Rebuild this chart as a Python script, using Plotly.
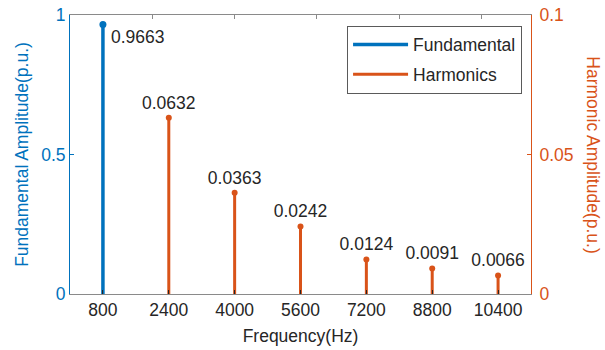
import plotly.graph_objects as go

freq_fund = [800]
amp_fund = [0.9663]
freq_harm = [2400, 4000, 5600, 7200, 8800, 10400]
amp_harm = [0.0632, 0.0363, 0.0242, 0.0124, 0.0091, 0.0066]
x_ticks = [800, 2400, 4000, 5600, 7200, 8800, 10400]
top_ticks = [2000, 4000, 6000, 8000, 10000]
left_ticks = [0, 0.5, 1]
left_labels = ["0", "0.5", "1"]
right_ticks = [0, 0.05, 0.1]
right_labels = ["0", "0.05", "0.1"]

BLUE = "#0072BD"
ORANGE = "#D95319"
DARK = "#262626"
FONT = "Liberation Sans, Arial, sans-serif"
FS = 17.5


def stems(xs, ys):
    sx, sy = [], []
    for x, y in zip(xs, ys):
        sx += [x, x, None]
        sy += [0, y, None]
    return sx, sy


fig = go.Figure()

fx, fy = stems(freq_fund, amp_fund)
fig.add_trace(go.Scatter(x=fx, y=fy, mode="lines", line=dict(color=BLUE, width=3.5),
                         name="Fundamental", legendgroup="f", yaxis="y"))
fig.add_trace(go.Scatter(x=freq_fund, y=amp_fund, mode="markers",
                         marker=dict(color=BLUE, size=7),
                         showlegend=False, yaxis="y", cliponaxis=False))

hx, hy = stems(freq_harm, amp_harm)
fig.add_trace(go.Scatter(x=hx, y=hy, mode="lines", line=dict(color=ORANGE, width=3),
                         name="Harmonics", legendgroup="h", yaxis="y2"))
fig.add_trace(go.Scatter(x=freq_harm, y=amp_harm, mode="markers+text",
                         marker=dict(color=ORANGE, size=6),
                         text=[f"{v:.4f}" for v in amp_harm], textposition="top center",
                         textfont=dict(color=DARK, size=FS, family=FONT),
                         showlegend=False, yaxis="y2", cliponaxis=False))

annotations = [dict(text="Harmonic Amplitude(p.u.)", textangle=90,
                    xref="paper", yref="paper", x=1.135, y=0.5,
                    xanchor="center", yanchor="middle", showarrow=False,
                    font=dict(size=FS, color=ORANGE, family=FONT))]
for x, v in zip(freq_fund, amp_fund):
    annotations.append(dict(text=f"{v:.4f}", x=x, y=v, xref="x", yref="y",
                            xanchor="left", yanchor="middle", xshift=6, yshift=-13,
                            showarrow=False, font=dict(size=FS, color=DARK, family=FONT)))

fig.update_layout(
    width=605, height=350,
    margin=dict(l=70, r=74, t=15, b=56),
    paper_bgcolor="white", plot_bgcolor="white",
    font=dict(family=FONT, size=FS, color=DARK),
    showlegend=True,
    legend=dict(x=0.601, y=0.962, xanchor="left", yanchor="top",
                bgcolor="white", bordercolor="#5a5a5a", borderwidth=1,
                font=dict(size=FS, color=DARK, family=FONT),
                itemwidth=55, tracegroupgap=4),
    xaxis=dict(range=[0, 11200], tickvals=x_ticks, ticktext=[str(v) for v in x_ticks],
               ticks="inside", ticklen=4, tickcolor=DARK, tickwidth=1,
               showline=True, linecolor="#8a8a8a", linewidth=1, mirror=False,
               showgrid=False, zeroline=False, automargin=False,
               title=dict(text="Frequency(Hz)", standoff=10, font=dict(size=FS, color=DARK)),
               tickfont=dict(size=FS, color=DARK)),
    xaxis2=dict(range=[0, 11200], tickvals=top_ticks, showticklabels=False,
                overlaying="x", side="top", anchor="y", automargin=False,
                ticks="inside", ticklen=4, tickcolor="#8a8a8a",
                showline=True, linecolor="#8a8a8a", linewidth=1,
                showgrid=False, zeroline=False),
    yaxis=dict(range=[0, 1], tickvals=left_ticks, ticktext=left_labels,
               ticks="inside", ticklen=4, tickcolor=BLUE,
               showline=True, linecolor=BLUE, linewidth=1,
               showgrid=False, zeroline=False, automargin=False,
               tickfont=dict(size=FS, color=BLUE),
               title=dict(text="Fundamental Amplitude(p.u.)", standoff=8,
                          font=dict(size=FS, color=BLUE))),
    yaxis2=dict(range=[0, 0.1], tickvals=right_ticks, ticktext=right_labels,
                overlaying="y", side="right", anchor="x", automargin=False,
                ticks="inside", ticklen=4, tickcolor=ORANGE,
                showline=True, linecolor=ORANGE, linewidth=1,
                showgrid=False, zeroline=False, ticklabelstandoff=4,
                tickfont=dict(size=FS, color=ORANGE)),
    annotations=annotations,
)

# dummy trace so the top axis is drawn
fig.add_trace(go.Scatter(x=[None], y=[None], xaxis="x2", yaxis="y", showlegend=False,
                         hoverinfo="skip"))

fig.write_html("out.html")
